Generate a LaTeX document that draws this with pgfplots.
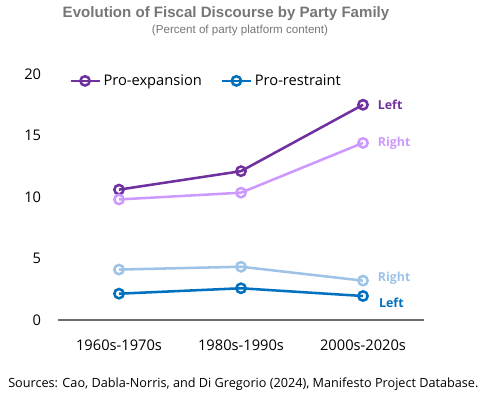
\documentclass[border=0pt]{standalone}
\usepackage{fontspec}
\setmainfont{Open Sans}
\newfontfamily\titlefont{Liberation Sans}
\usepackage{pgfplots}
\pgfplotsset{compat=1.18}
\definecolor{leftexp}{RGB}{112,48,160}
\definecolor{rightexp}{RGB}{204,153,255}
\definecolor{leftres}{RGB}{0,112,192}
\definecolor{rightres}{RGB}{157,195,230}
\definecolor{titlegray}{RGB}{118,118,118}
\definecolor{axisgray}{RGB}{110,110,110}

% 1 unit = 1 px of the 500x400 reference, y measured from the bottom
\begin{document}
\begin{tikzpicture}[x=0.75pt,y=0.75pt]
\path[use as bounding box] (0,0) rectangle (500,400);
\begin{axis}[
    at={(43.5pt,60pt)}, anchor=south west,
    scale only axis,
    width=274.5pt, height=184.5pt,
    xmin=-0.5, xmax=2.5, ymin=0, ymax=20,
    xtick={0,1,2},
    xticklabels={1960s-1970s,1980s-1990s,2000s-2020s},
    ytick={0,5,10,15,20},
    major tick length=0pt,
    axis lines*=left,
    y axis line style={draw=none},
    x axis line style={axisgray, line width=1.1pt},
    tick label style={font=\fontsize{11}{13}\selectfont, inner sep=0pt},
    yticklabel style={anchor=east, xshift=-12.5pt},
    xticklabel style={anchor=north, yshift=-14.5pt},
    /pgf/number format/assume math mode=true,
    clip=false,
    every axis plot/.append style={line width=1.9pt, mark=o,
        mark size=3.5pt, mark options={fill=white, line width=1.1pt}},
    legend columns=2,
    legend style={at={(0.03,0.972)}, anchor=west, draw=none, fill=none,
        inner sep=0pt, font=\fontsize{11}{13}\selectfont,
        /tikz/every even column/.append style={column sep=12pt}},
    legend image code/.code={
        \draw[#1, mark repeat=2, mark phase=2] plot coordinates {(0pt,0pt)(10.9pt,0pt)(21.8pt,0pt)};},
]
\addplot[leftexp, mark options={draw=leftexp, fill=white}] coordinates {(0,10.6)(1,12.1)(2,17.5)};
\addlegendentry{Pro-expansion}
\addplot[leftres, mark options={draw=leftres, fill=white}] coordinates {(0,2.14)(1,2.58)(2,1.95)};
\addlegendentry{Pro-restraint}
\addplot[rightexp, mark options={draw=rightexp, fill=white}, forget plot] coordinates {(0,9.8)(1,10.35)(2,14.4)};
\addplot[rightres, mark options={draw=rightres, fill=white}, forget plot] coordinates {(0,4.1)(1,4.33)(2,3.2)};

\node[anchor=west, inner sep=0pt, text=leftexp, font=\bfseries\fontsize{9.3}{11}\selectfont] at (axis cs:2.12,17.5) {Left};
\node[anchor=west, inner sep=0pt, text=rightexp, font=\bfseries\fontsize{9.3}{11}\selectfont] at (axis cs:2.12,14.4) {Right};
\node[anchor=west, inner sep=0pt, text=rightres, font=\bfseries\fontsize{9.3}{11}\selectfont] at (axis cs:2.12,3.4) {Right};
\node[anchor=west, inner sep=0pt, text=leftres, font=\bfseries\fontsize{9.3}{11}\selectfont] at (axis cs:2.13,1.4) {Left};
\end{axis}
\node[text=titlegray, font=\titlefont\bfseries\fontsize{11.3}{13}\selectfont] at (226,386) {Evolution of Fiscal Discourse by Party Family};
\node[text=titlegray, font=\titlefont\fontsize{8.7}{10}\selectfont] at (240,369.5) {(Percent of party platform content)};
\node[anchor=west, inner sep=0pt, font=\fontsize{9.5}{11}\selectfont] at (8,16) {Sources: Cao, Dabla-Norris, and Di Gregorio (2024), Manifesto Project Database.};
\end{tikzpicture}
\end{document}
